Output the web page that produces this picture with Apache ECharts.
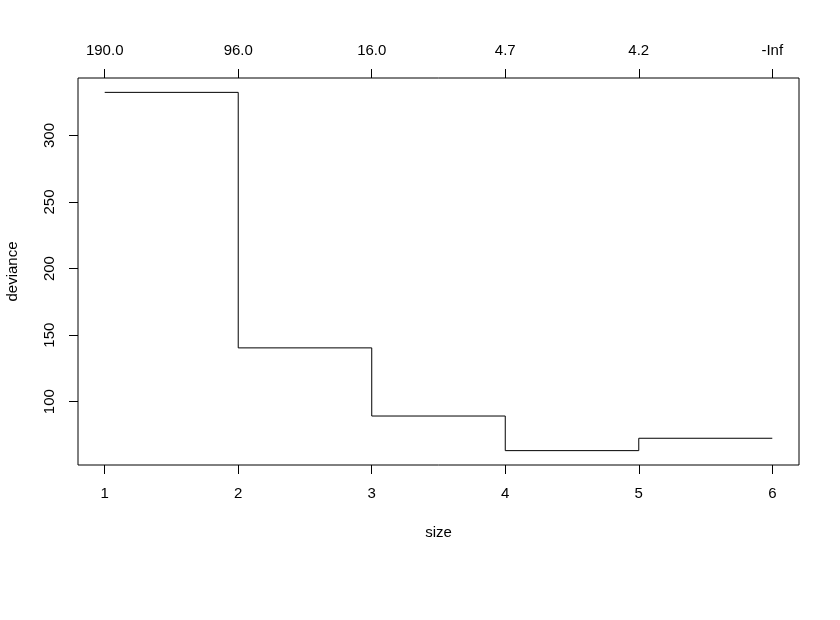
<!DOCTYPE html>
<html>
<head>
<meta charset="utf-8">
<script src="https://cdn.jsdelivr.net/npm/echarts@6/dist/echarts.min.js"></script>
<style>
html,body{margin:0;padding:0;background:#fff;}
#c{width:840px;height:620px;}
</style>
</head>
<body>
<div id="c"></div>
<script>
var sizes = [1, 2, 3, 4, 5, 6];
var deviance = [332.4, 140.4, 89.2, 63.2, 72.5, 72.5];
var topLabels = ['190.0', '96.0', '16.0', '4.7', '4.2', '-Inf'];
var yTicks = [100, 150, 200, 250, 300];

var font = 'Liberation Sans, Arial, sans-serif';
var chart = echarts.init(document.getElementById('c'), null, {renderer: 'canvas'});
var data = sizes.map(function (s, i) { return [s, deviance[i]]; });

chart.setOption({
  animation: false,
  backgroundColor: '#fff',
  grid: {left: 78, top: 78, right: 41, bottom: 155, containLabel: false, outerBoundsMode: 'none',
    show: true, borderColor: '#000', borderWidth: 1, backgroundColor: 'transparent'},
  xAxis: [{
    type: 'value', position: 'bottom', min: 0.8, max: 6.2,
    name: 'size', nameLocation: 'middle', nameGap: 60,
    nameTextStyle: {fontFamily: font, fontSize: 15, color: '#000'},
    axisLine: {show: false},
    splitLine: {show: false},
    axisTick: {show: true, length: 9, inside: false, lineStyle: {color: '#000'}, customValues: sizes},
    axisLabel: {customValues: sizes, margin: 21, fontFamily: font, fontSize: 15, color: '#000'}
  }, {
    type: 'value', position: 'top', min: 0.8, max: 6.2,
    axisLine: {show: false},
    splitLine: {show: false},
    axisTick: {show: true, length: 9, lineStyle: {color: '#000'}, customValues: sizes},
    axisLabel: {customValues: sizes, margin: 20, fontFamily: font, fontSize: 15, color: '#000',
      formatter: function (v) { var i = sizes.indexOf(Math.round(v)); return i >= 0 ? topLabels[i] : ''; }}
  }],
  yAxis: {
    type: 'value', min: 52.4, max: 343.2,
    name: 'deviance', nameLocation: 'middle', nameGap: 58, nameRotate: 90,
    nameTextStyle: {fontFamily: font, fontSize: 15, color: '#000'},
    axisLine: {show: false},
    splitLine: {show: false},
    axisTick: {show: true, length: 9, lineStyle: {color: '#000'}, customValues: yTicks},
    axisLabel: {customValues: yTicks, rotate: 90, margin: 21, fontFamily: font, fontSize: 15, color: '#000'}
  },
  series: [{
    type: 'line', xAxisIndex: 0, step: 'end', data: data,
    showSymbol: false, symbol: 'none',
    lineStyle: {color: '#000', width: 1}
  }]
});
</script>
</body>
</html>
